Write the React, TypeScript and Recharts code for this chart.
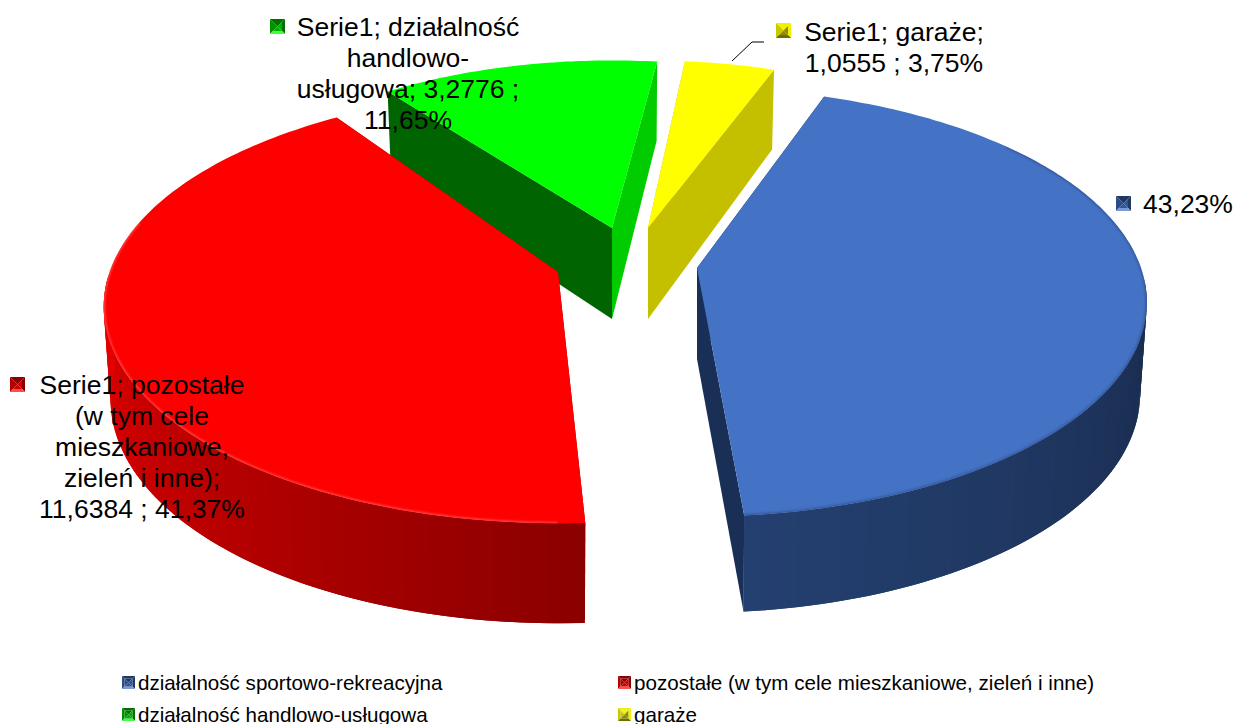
import React from "react";
import { PieChart, Pie, Legend } from "recharts";

// Data (paint order of the slices comes from PAINT_ORDER)
const CATEGORIES = [
  "działalność sportowo-rekreacyjna",
  "pozostałe (w tym cele mieszkaniowe, zieleń i inne)",
  "działalność handlowo-usługowa",
  "garaże",
];
const VALUES = [12.1615, 11.6384, 3.2776, 1.0555];
const PAINT_ORDER = [2, 3, 0, 1];
const LABEL_LINES = [
  ["43,23%"],
  ["Serie1; pozostałe", "(w tym cele", "mieszkaniowe,", "zieleń i inne);", "11,6384 ; 41,37%"],
  ["Serie1; działalność", "handlowo-", "usługowa; 3,2776 ;", "11,65%"],
  ["Serie1; garaże;", "1,0555 ; 3,75%"],
];

// Rendering constants
const W = 1235, H = 724;
const CX = 625, CY = 262, R = 444, TILT = 0.4707, PERSP = 0.16;
const FONT = '"Liberation Sans", Arial, sans-serif';
const TOP = ["#4472C4", "#FF0000", "#00FF00", "#FFFF00"];
const FACE_START = ["#1A2F55", "#8B0000", "#006400", "#C4C000"];
const FACE_END = ["#1A2F55", "#8B0000", "#00CC00", "#C4C000"];
const EXPLODE = [
  { dx: 72, dy: 6, s: 1, twist: 1, spread: 1, front: 5 },
  { dx: -67, dy: 10, s: 1.01, twist: 3.2, spread: 1, front: 9 },
  { dx: -13, dy: -34, s: 0.93, twist: 1, spread: 1.074, front: 6 },
  { dx: 23, dy: -34, s: 0.93, twist: 1.75, spread: 1.08, front: 6 },
];
const RIM = [
  { from: 50, to: 175, color: "#2E4F8C", width: 2.5 },
  { from: 180, to: 285, color: "#FF5A5A", width: 2.5 },
];
const LABEL_POS = [
  { cx: 1188, y0: 213, kx: 1116, ky: 196 },
  { cx: 142, y0: 394, kx: 10, ky: 377 },
  { cx: 408, y0: 36, kx: 270, ky: 19 },
  { cx: 894, y0: 41, kx: 776, ky: 23 },
];
const LEGEND_POS = [
  { x: 122, y: 683 },
  { x: 618, y: 683 },
  { x: 122, y: 715 },
  { x: 618, y: 715 },
];
const KEY_SHADES = [
  ["#1F3864", "#2C4C86", "#2F5597", "#7C9AD6"],
  ["#8B0000", "#B00000", "#D00000", "#FF5050"],
  ["#007000", "#009000", "#00B000", "#40FF40"],
  ["#F0F000", "#C8C800", "#8C8C00", "#6E6E00"],
];

function mix(a: number[], b: number[], t: number) {
  const c = Math.max(0, Math.min(1, t));
  return `rgb(${a.map((x, i) => Math.round(x + (b[i] - x) * c)).join(",")})`;
}

function wallColor(i: number, theta: number) {
  const d = ((theta % 360) + 360) % 360;
  if (i === 0) return mix([26, 45, 80], [36, 64, 112], (d - 100) / 74);
  if (i === 1) return mix([139, 0, 0], [245, 0, 0], (d - 177) / 106);
  return FACE_END[i];
}

function Key({ x, y, size, shades }: { x: number; y: number; size: number; shades: string[] }) {
  const c = size / 2, b = size * 0.2;
  const [t, l, r, bo] = shades;
  return (
    <g transform={`translate(${x},${y})`}>
      <polygon points={`0,0 ${size},0 ${size - b},${b} ${b},${b}`} fill={t} />
      <polygon points={`0,0 ${b},${b} ${b},${size - b} 0,${size}`} fill={l} />
      <polygon points={`${size},0 ${size},${size} ${size - b},${size - b} ${size - b},${b}`} fill={t} />
      <polygon points={`0,${size} ${size},${size} ${size - b},${size - b} ${b},${size - b}`} fill={bo} />
      <polygon points={`${b},${b} ${size - b},${b} ${c},${c}`} fill={t} />
      <polygon points={`${b},${b} ${c},${c} ${b},${size - b}`} fill={l} />
      <polygon points={`${size - b},${b} ${size - b},${size - b} ${c},${c}`} fill={r} />
      <polygon points={`${b},${size - b} ${size - b},${size - b} ${c},${c}`} fill={r} />
    </g>
  );
}

function Slice3D(props: any) {
  const i = CATEGORIES.indexOf(props.name);
  const { dx, dy, s, twist, spread, front } = EXPLODE[i];
  const ax = props.cx + dx, ay = props.cy + dy;
  const rx = props.outerRadius, ry = rx * TILT;
  const raw0 = 90 - props.startAngle, raw1 = 90 - props.endAngle;
  const mid = (raw0 + raw1) / 2;
  const t0 = mid + (raw0 - mid) * spread + twist;
  const t1 = mid + (raw1 - mid) * spread + twist;
  const top = (deg: number) => {
    const a = (deg * Math.PI) / 180;
    const u = Math.sin(a), v = -Math.cos(a), w = 1 - PERSP * v;
    return { x: ax + (s * rx * u) / w, y: ay + (s * ry * v) / w, v };
  };
  const bottom = (deg: number) => {
    const p = top(deg);
    return { x: ax + (p.x - ax) * 0.985, y: p.y + 91 + (p.v < 0 ? 12 : front) * p.v };
  };
  const pt = (p: { x: number; y: number }) => `${p.x.toFixed(1)},${p.y.toFixed(1)}`;
  const apexB = { x: ax, y: ay + 91 };
  const apex = { x: ax, y: ay };
  const steps = Math.max(8, Math.ceil(Math.abs(t1 - t0) / 1));
  const angles = Array.from({ length: steps + 1 }, (_, k) => t0 + ((t1 - t0) * k) / steps);
  const rim = angles.map(top);
  const hl = RIM[i];
  const hlAngles = hl ? angles.filter((a) => { const d = ((a % 360) + 360) % 360; return d >= hl.from && d <= hl.to; }) : [];
  const clipId = `top-${i}`;
  const topPoints = [apex, ...rim].map(pt).join(" ");
  return (
    <g>
      <defs>
        <filter id={`soft-${i}`} x="-5%" y="-5%" width="110%" height="110%">
          <feGaussianBlur stdDeviation={1} />
        </filter>
        <clipPath id={clipId}>
          <polygon points={topPoints} />
        </clipPath>
      </defs>
      <polygon points={[apex, top(t0), bottom(t0), apexB].map(pt).join(" ")} fill={FACE_START[i]} />
      <polygon points={[apex, top(t1), bottom(t1), apexB].map(pt).join(" ")} fill={FACE_END[i]} />
      {angles.slice(0, -1).map((a, k) => {
        if (top(a).v < 0.05) return null;
        const next = angles[Math.min(k + 2, steps)];
        return (
          <polygon
            key={k}
            points={[top(a), top(next), bottom(next), bottom(a)].map(pt).join(" ")}
            fill={wallColor(i, a)}
          />
        );
      })}
      <polygon points={topPoints} fill={TOP[i]} />
      {hl && (
        <g clipPath={`url(#${clipId})`}>
          <polyline
            points={hlAngles.map((a) => pt(top(a))).join(" ")}
            fill="none"
            stroke={hl.color}
            strokeWidth={hl.width}
            strokeOpacity={0.8}
            filter={`url(#soft-${i})`}
          />
        </g>
      )}
    </g>
  );
}

function SliceLabel(props: any) {
  const i = CATEGORIES.indexOf(props.name);
  const pos = LABEL_POS[i];
  const lines = LABEL_LINES[i];
  return (
    <g>
      <Key x={pos.kx} y={pos.ky} size={15} shades={KEY_SHADES[i]} />
      {i === 3 && <polyline points="732,61 752,42 764,42" fill="none" stroke="#000" strokeWidth={1} />}
      {lines.map((ln, k) => (
        <text key={k} x={pos.cx} y={pos.y0 + k * 31} textAnchor="middle" fontFamily={FONT} fontSize={26.5} fill="#000">
          {ln}
        </text>
      ))}
    </g>
  );
}

function LegendBox() {
  return (
    <div style={{ position: "absolute", left: 0, top: 0, width: W, height: H, pointerEvents: "none" }}>
      {CATEGORIES.map((c, i) => (
        <div key={c} style={{ position: "absolute", left: LEGEND_POS[i].x, top: LEGEND_POS[i].y - 12, height: 24, whiteSpace: "nowrap", lineHeight: "24px", fontFamily: FONT, fontSize: 20.6, color: "#000" }}>
          <svg width={13} height={13} style={{ position: "absolute", left: 0, top: 5 }}>
            <Key x={0} y={0} size={13} shades={KEY_SHADES[i]} />
          </svg>
          <span style={{ position: "absolute", left: 16 }}>{c}</span>
        </div>
      ))}
    </div>
  );
}

const DATA = PAINT_ORDER.map((i) => ({ name: CATEGORIES[i], value: VALUES[i] }));
const START = 90 - 322.8;

export default function App() {
  return (
    <div style={{ position: "absolute", left: 0, top: 0, width: W, height: H, overflow: "hidden", background: "#fff" }}>
      <PieChart width={W} height={H} margin={{ top: 0, right: 0, bottom: 0, left: 0 }}>
        <Pie
          data={DATA}
          dataKey="value"
          nameKey="name"
          cx={CX}
          cy={CY}
          innerRadius={0}
          outerRadius={R}
          startAngle={START}
          endAngle={START - 360}
          stroke="none"
          isAnimationActive={false}
          labelLine={false}
          label={SliceLabel}
          shape={Slice3D}
        />
        <Legend content={LegendBox} wrapperStyle={{ position: "absolute", left: 0, top: 0, width: W, height: 0, bottom: "auto" }} />
      </PieChart>
    </div>
  );
}
